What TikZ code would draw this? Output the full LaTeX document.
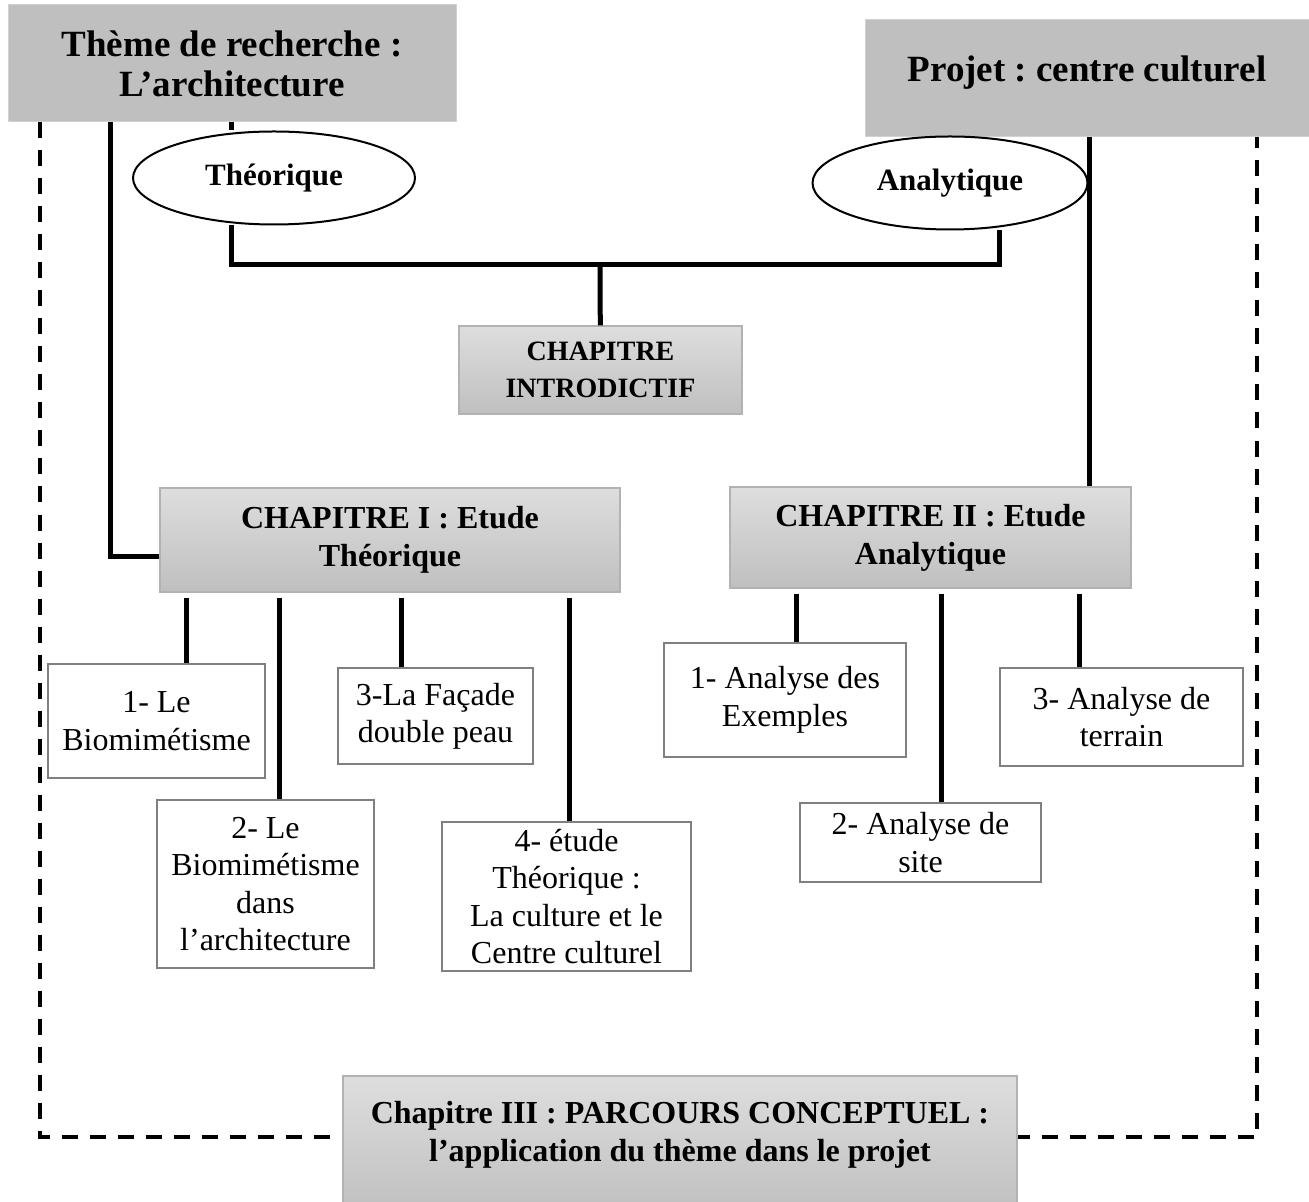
\documentclass[tikz,border=0pt]{standalone}
\usepackage{fontspec}
\setmainfont{Liberation Serif}
\frenchspacing
\usetikzlibrary{shapes.geometric}
\begin{document}
\begin{tikzpicture}[x=.5pt,y=-.5pt,
	titre/.style={fill=white!75!black,draw=white!82!black,line width=.5pt,align=center,inner sep=0pt,font=\bfseries\fontsize{18.5}{20}\selectfont},
	ovale/.style={ellipse,draw,line width=1pt,fill=white,inner sep=0pt,font=\bfseries\fontsize{15.5}{18}\selectfont},
	chap/.style={top color=white!87!black,bottom color=white!75!black,draw=white!70!black,line width=.6pt,align=center,inner sep=0pt,font=\bfseries\fontsize{16}{19}\selectfont},
	boite/.style={fill=white,draw=white!50!black,line width=1pt,align=center,inner sep=0pt,font=\fontsize{16}{18.7}\selectfont},
	trait/.style={line width=2.5pt},
	cadre/.style={line width=2pt,dash pattern=on 8pt off 6pt}]
	\useasboundingbox (0,0) rectangle (1309,1202);
	\path
	(110,0) coordinate (xa)
	(231,0) coordinate (xb)
	(999,0) coordinate (xc)
	(1089,0) coordinate (xd)
	(40,0) coordinate (xl)
	(1257,0) coordinate (xr)
	(0,1137) coordinate (yb)
	(600,265) coordinate (bus);
	% themes
	\node[titre,minimum width=224pt,minimum height=58.5pt] (theme) at (232,63.5) {Thème de recherche :\\L’architecture};
	\node[titre,minimum width=222pt,minimum height=58.5pt,text depth=9.4pt] (projet) at (1087,78.5) {Projet : centre culturel};
	\node[ovale,minimum width=141pt,minimum height=46.5pt] (theo) at (274,178) {Théorique};
	\node[ovale,minimum width=137.5pt,minimum height=46.5pt] (ana) at (950,183) {Analytique};
	% chapitres
	\node[chap,minimum width=141.5pt,minimum height=44pt,font=\bfseries\fontsize{14}{18.5}\selectfont] (intro) at (600.5,370) {CHAPITRE\\INTRODICTIF};
	\node[chap,minimum width=230pt,minimum height=52pt] (chI) at (390,540) {CHAPITRE I : Etude\\Théorique};
	\node[chap,minimum width=200.5pt,minimum height=50.5pt] (chII) at (930.5,537.5) {CHAPITRE II : Etude\\Analytique};
	% parties
	\node[boite,minimum width=108.5pt,minimum height=57pt] (bio) at (156.5,721) {1- Le\\Biomimétisme};
	\node[boite,minimum width=108.5pt,minimum height=84pt] (bioarch) at (265.5,884) {2- Le\\Biomimétisme\\dans\\l’architecture};
	\node[boite,minimum width=97.5pt,minimum height=48pt] (facade) at (435.5,716) {3-La Façade\\double peau};
	\node[boite,minimum width=124.5pt,minimum height=74.5pt] (culture) at (566.5,896.5) {4- étude\\Théorique :\\La culture et le\\Centre culturel};
	\node[boite,minimum width=121pt,minimum height=57pt] (exemples) at (785,700) {1- Analyse des\\Exemples};
	\node[boite,minimum width=120.5pt,minimum height=39.5pt] (site) at (920.5,842.5) {2- Analyse de\\site};
	\node[boite,minimum width=121.5pt,minimum height=49pt] (terrain) at (1121.5,717) {3- Analyse de\\terrain};
	% liaisons
	\draw[trait] (theme.south -| xa) |- ([yshift=-8pt]chI.west);
	\draw[trait] (theme.south -| xb) -- (theo.north -| xb);
	\draw[trait] (theo.south -| xb) |- (bus) -| (ana.south -| xc);
	\draw[trait] (bus) -- (intro);
	\draw[trait] (projet.south -| xd) -- (chII.north -| xd);
	\foreach \x/\b in {186/bio,279/bioarch,401/facade,569/culture}{
		\path (\x,0) coordinate (px);
		\draw[trait,shorten <=2.5pt] (chI.south -| px) -- (\b.north -| px);}
	\foreach \x/\b in {796/exemples,941/site,1079/terrain}{
		\path (\x,0) coordinate (px);
		\draw[trait,shorten <=2.5pt] (chII.south -| px) -- (\b.north -| px);}
	\draw[cadre] (theme.south -| xl) |- (xr |- yb) -- (projet.south -| xr);
	\node[chap,minimum width=337pt,minimum height=69.5pt,text depth=14.4pt] (chIII) at (680,1145.5) {Chapitre III : PARCOURS CONCEPTUEL :\\l’application du thème dans le projet};
\end{tikzpicture}
\end{document}
